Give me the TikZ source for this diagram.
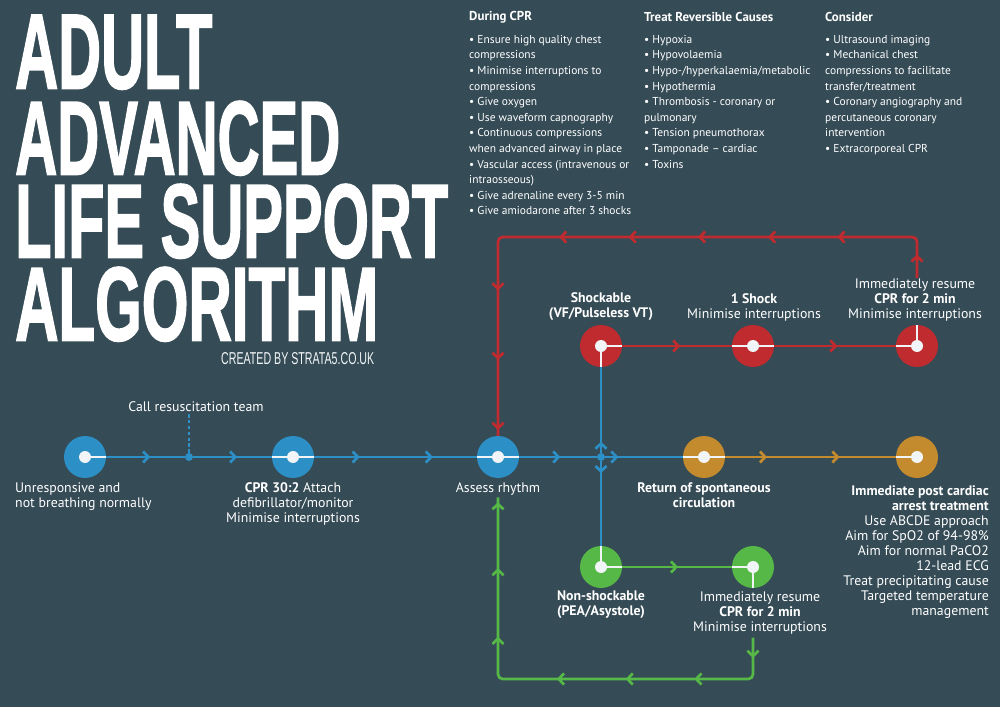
\documentclass[tikz,border=0pt]{standalone}
\usepackage{fontspec}
\setmainfont{PT Sans}
\newfontfamily\titlefont[FakeBold=2]{Liberation Sans Bold}
\newfontfamily\creditfont{Liberation Sans}
\usepackage{tikz}
\usetikzlibrary{arrows.meta, decorations.markings}
\definecolor{bg}{HTML}{354B55}
\definecolor{alsblue}{HTML}{2C8FC6}
\definecolor{alsred}{HTML}{BF2B2E}
\definecolor{alsgold}{HTML}{C48A2E}
\definecolor{alsgreen}{HTML}{56B947}
\definecolor{dot}{HTML}{F2F5F7}
\def\itm{\textbullet\ }
\tikzset{stop/.style={circle, fill=#1, minimum size=1.26cm, inner sep=0pt}}
\tikzset{split/.style={circle, fill=alsblue, minimum size=0.24cm, inner sep=0pt}}
\tikzset{route/.style={line width=2.3pt, draw=#1}}
\tikzset{stub/.style={line width=2.3pt, dot}}
\tikzset{chev/.style={postaction={decorate, decoration={markings, mark=at position #1 with {\arrow{Straight Barb[length=4.5pt, width=9.5pt]}}}}}}
\tikzset{lbl/.style={text=white, inner sep=0pt, align=center, font=\fontsize{11.8}{12.8}\selectfont}}
\tikzset{colhead/.style={text=white, inner sep=0pt, anchor=west, font=\fontsize{11}{13}\selectfont\bfseries}}
\tikzset{col/.style={text=white, inner sep=0pt, align=left, anchor=north west, font=\fontsize{9.8}{13.3}\selectfont}}

\begin{document}
\begin{tikzpicture}[x=0.03cm, y=-0.03cm]
  \useasboundingbox (0,0) rectangle (1000,707);
  \fill[bg] (0,0) rectangle (1000,707);
  % Title
  \foreach \word/\y/\w in {ADULT/15/5.91, ADVANCED/101/9.75, LIFE SUPPORT/184/12.99, ALGORITHM/267/10.89}
    \node[anchor=north west, inner sep=0pt, text=white] at (15,\y) {\resizebox{\w cm}{2.19cm}{\titlefont \word}};
  \node[anchor=north west, inner sep=0pt, text=dot] (credit) at (221,352) {\resizebox{4.59cm}{0.36cm}{\creditfont CREATED BY STRATA5.CO.UK}};

  % Lists
  \node[colhead] (duringhead) at (469,17) {During CPR};
  \node[colhead] (causeshead) at (644,17) {Treat Reversible Causes};
  \node[colhead] (considerhead) at (825,17) {Consider};
  \node[col] (during) at (469,35) {\itm Ensure high quality chest\\compressions\\\itm Minimise interruptions to\\compressions\\\itm Give oxygen\\\itm Use waveform capnography\\\itm Continuous compressions\\when advanced airway in place\\\itm Vascular access (intravenous or\\intraosseous)\\\itm Give adrenaline every 3-5 min\\\itm Give amiodarone after 3 shocks};
  \node[col] (causes) at (644,35) {\itm Hypoxia\\\itm Hypovolaemia\\\itm Hypo-/hyperkalaemia/metabolic\\\itm Hypothermia\\\itm Thrombosis - coronary or\\pulmonary\\\itm Tension pneumothorax\\\itm Tamponade -- cardiac\\\itm Toxins};
  \node[col] (consider) at (825,35) {\itm Ultrasound imaging\\\itm Mechanical chest\\compressions to facilitate\\transfer/treatment\\\itm Coronary angiography and\\percutaneous coronary\\intervention\\\itm Extracorporeal CPR};

  % Stops
  \node[stop=alsblue] (unresp) at (85,457) {};
  \node[split] (call) at (189,457) {};
  \node[stop=alsblue] (cpr) at (293,457) {};
  \node[stop=alsblue] (assess) at (498,457) {};
  \node[split] (fork) at (601,457) {};
  \node[stop=alsgold] (rosc) at (704,457) {};
  \node[stop=alsgold] (post) at (917,457) {};
  \node[stop=alsred] (shock) at (601,346) {};
  \node[stop=alsred] (oneshock) at (753,346) {};
  \node[stop=alsred] (rcpr) at (917,346) {};
  \node[stop=alsgreen] (nonshock) at (601,567) {};
  \node[stop=alsgreen] (gcpr) at (753,567) {};

  % Labels
  \node[lbl, anchor=south] (calllbl) at (196,412) {Call resuscitation team};
  \node[lbl, anchor=north west, align=left] (unresplbl) at (15,482) {Unresponsive and\\not breathing normally};
  \node[lbl, anchor=north] (cprlbl) at (293,482) {\textbf{CPR 30:2} Attach\\defibrillator/monitor\\Minimise interruptions};
  \node[lbl, anchor=north] (assesslbl) at (498,482) {Assess rhythm};
  \node[lbl, anchor=north] (rosclbl) at (704,482) {\textbf{Return of spontaneous}\\\textbf{circulation}};
  \node[lbl, anchor=north east, align=right] (postlbl) at (989,485) {\textbf{Immediate post cardiac}\\\textbf{arrest treatment}\\Use ABCDE approach\\Aim for SpO2 of 94-98\%\\Aim for normal PaCO2\\12-lead ECG\\Treat precipitating cause\\Targeted temperature\\management};
  \node[lbl, anchor=south] (shocklbl) at (601,321) {\textbf{Shockable}\\\textbf{(VF/Pulseless VT)}};
  \node[lbl, anchor=south] (oneshocklbl) at (754,321) {\textbf{1 Shock}\\Minimise interruptions};
  \node[lbl, anchor=south] (rcprlbl) at (915,321) {Immediately resume\\\textbf{CPR for 2 min}\\Minimise interruptions};
  \node[lbl, anchor=north] (nonshocklbl) at (601,591) {\textbf{Non-shockable}\\\textbf{(PEA/Asystole)}};
  \node[lbl, anchor=north] (gcprlbl) at (760,591) {Immediately resume\\\textbf{CPR for 2 min}\\Minimise interruptions};

  % Main line
  \draw[alsblue, line width=1.5pt, dash pattern=on 3pt off 2pt] (call) -- (calllbl.south -| call);
  \draw[route=alsblue, chev=0.56] (unresp) -- (call);
  \draw[route=alsblue, chev=0.56] (call) -- (cpr);
  \draw[route=alsblue, chev=0.28, chev=0.73] (cpr) -- (assess);
  \draw[route=alsblue, chev=0.53] (assess) -- (fork);
  \draw[route=alsblue, chev=0.17] (fork) -- (rosc);
  \draw[route=alsblue, chev=0.13] (fork) -- (shock);
  \draw[route=alsblue, chev=0.14] (fork) -- (nonshock);
  \draw[route=alsgold, chev=0.245, chev=0.67] (rosc) -- (post);
  % Shockable loop
  \draw[route=alsred, chev=0.53] (shock) -- (oneshock);
  \draw[route=alsred, chev=0.52] (oneshock) -- (rcpr);
  \coordinate (redR) at (917,237);
  \coordinate (redL) at (498,237);
  \draw[route=alsred, rounded corners=4pt, chev=.036, chev=.181, chev=.287, chev=.394, chev=.5, chev=.606, chev=.778, chev=.884, chev=.991]
    (rcprlbl.north -| rcpr) -- (redR) -- (redL) -- (assess.north);
  % Non-shockable loop
  \draw[route=alsgreen, chev=0.51] (nonshock) -- (gcpr);
  \coordinate (greenR) at (753,679);
  \coordinate (greenL) at (498,679);
  \draw[route=alsgreen, rounded corners=4pt, chev=.043, chev=.207, chev=.352, chev=.497, chev=.706, chev=.851, chev=.99]
    ([yshift=-3pt]gcprlbl.south -| gcpr) -- (greenR) -- (greenL) -- ([yshift=-2pt]assesslbl.south);

  % White stubs
  \foreach \n/\ends in {unresp/{east}, cpr/{west,east}, assess/{west,east}, rosc/{west,east}, post/{west},
    shock/{east,south}, oneshock/{west,east}, rcpr/{west,north}, nonshock/{north,east}, gcpr/{west,south}} {
    \foreach \e in \ends {
      \draw[stub] (\n.center) -- (\n.\e);
    }
    \fill[dot] (\n) circle (0.18cm);
  }
\end{tikzpicture}
\end{document}
